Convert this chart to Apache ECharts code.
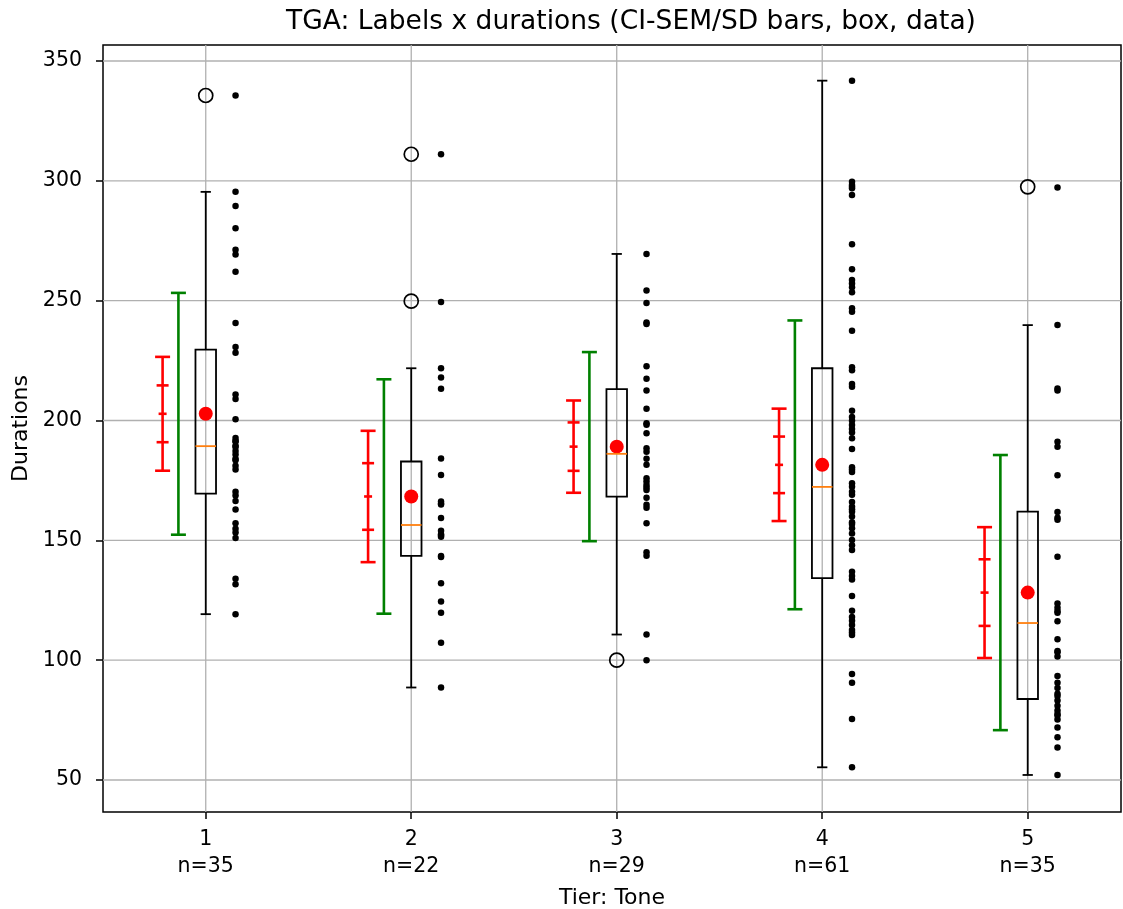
<!DOCTYPE html>
<html><head><meta charset="utf-8">
<script src="https://cdn.jsdelivr.net/npm/echarts@6/dist/echarts.min.js"></script>
<style>html,body{margin:0;padding:0;background:#fff}#c{width:1123px;height:909px}</style>
</head><body><div id="c"></div>
<script>
// ---------- data ----------
const categories = ['1', '2', '3', '4', '5'];
const counts = [35, 22, 29, 61, 35];
const yTicks = [50, 100, 150, 200, 250, 300, 350];

const means   = [202.8, 168.3, 189.1, 181.5, 128.2];
const ciHalf  = [23.75, 27.4, 19.25, 23.45, 27.3];
const semHalf = [11.85, 13.9, 10.1, 11.8, 13.9];
const sdHalf  = [50.45, 48.9, 39.45, 60.25, 57.4];

const whiskerLow  = [119.2, 88.6, 110.7, 55.3, 52.1];
const q1          = [169.5, 143.5, 168.2, 134.2, 83.8];
const medians     = [189.3, 156.4, 186.1, 172.3, 115.5];
const q3          = [229.6, 182.9, 213.1, 221.8, 162.0];
const whiskerHigh = [295.4, 221.8, 269.5, 341.8, 239.8];
const outliers = [[335.6], [311.1, 249.8], [100.0], [], [297.5]];

const values1 = [335.6, 295.4, 289.5, 280.2, 271.2, 269.3, 262.1, 240.7, 230.7, 228.3, 210.8, 209.0,
  200.5, 192.7, 191.2, 188.9, 187.3, 185.8, 183.4, 181.1, 179.6, 170.3, 168.7, 166.4, 162.9, 157.1,
  154.8, 153.3, 151.0, 134.0, 131.7, 119.2, 189.5, 184.0, 191.5];
const values2 = [311.1, 249.4, 221.8, 217.9, 213.3, 184.1, 177.3, 166.2, 165.4, 159.3, 154.0, 152.5,
  151.5, 143.0, 132.1, 124.5, 119.8, 107.3, 88.6, 165.0, 152.0, 143.5];
const values3 = [269.5, 254.2, 249.0, 240.9, 240.3, 222.6, 217.4, 212.5, 204.9, 198.9, 198.2, 194.7,
  188.4, 187.0, 181.5, 175.9, 174.5, 173.1, 171.0, 167.8, 164.8, 163.6, 157.1, 145.0, 143.6, 110.7,
  100.0, 184.0, 172.0];
const values4 = [341.8, 299.6, 298.3, 296.9, 294.1, 273.5, 263.1, 258.6, 257.2, 253.5, 246.8, 245.4,
  237.5, 222.2, 215.2, 214.1, 204.1, 199.9, 198.1, 196.5, 192.6, 188.1, 179.6, 173.8, 172.4, 170.3,
  164.0, 161.9, 159.9, 156.8, 155.0, 152.9, 150.1, 146.0, 136.9, 135.1, 133.7, 126.8, 120.6, 116.5,
  114.7, 112.6, 110.5, 94.2, 90.6, 75.5, 55.3, 297.5, 255.6, 221.0, 201.5, 195.0, 180.5, 178.5,
  169.0, 166.0, 163.0, 157.5, 148.0, 118.0, 111.5];
const values5 = [297.2, 239.8, 213.4, 212.5, 191.1, 189.1, 177.2, 161.8, 159.4, 158.6, 143.2, 123.6,
  121.9, 119.8, 116.2, 108.7, 103.8, 103.3, 93.4, 90.6, 88.4, 86.0, 83.2, 81.0, 79.0, 76.9, 75.2,
  71.9, 67.8, 63.6, 52.1, 120.5, 101.5, 85.0, 77.5];
const groupValues = [values1, values2, values3, values4, values5];

// ---------- layout / style constants ----------
const FONT = 'DejaVu Sans';
const X_RED = -0.21, X_GREEN = -0.133, X_DATA = 0.145;
const BOX_HALF = 0.05, CAP_HALF = 0.025;
const ERR_CAP = 7.5, SEM_TICK = 6, MEAN_TICK = 4;

const xs = categories.map((c, i) => i + 1);
const boxData = xs.map((x, i) => [x, whiskerLow[i], q1[i], medians[i], q3[i], whiskerHigh[i]]);
const redData = xs.map((x, i) => [x + X_RED, means[i], ciHalf[i], semHalf[i]]);
const greenData = xs.map((x, i) => [x + X_GREEN, means[i], sdHalf[i]]);
const meanData = xs.map((x, i) => [x, means[i]]);
const outlierData = [];
outliers.forEach((arr, i) => arr.forEach(v => outlierData.push([xs[i], v])));
const pointData = [];
groupValues.forEach((arr, i) => arr.forEach(v => pointData.push([xs[i] + X_DATA, v])));
const gridData = xs.map(v => [v, null]).concat(yTicks.map(v => [null, v]));

function hline(cx, cy, half, style) {
  return { type: 'line', shape: { x1: cx - half, y1: cy, x2: cx + half, y2: cy }, style: style };
}

function renderGrid(params, api) {
  const cs = params.coordSys;
  const xv = api.value(0), yv = api.value(1);
  const st = { stroke: '#b0b0b0', lineWidth: 1.3 };
  if (params.dataIndex < xs.length) {
    const p = api.coord([xv, yTicks[0]]);
    return { type: 'line', shape: { x1: p[0], y1: cs.y, x2: p[0], y2: cs.y + cs.height }, style: st };
  }
  const p = api.coord([xs[0], yv]);
  return { type: 'line', shape: { x1: cs.x, y1: p[1], x2: cs.x + cs.width, y2: p[1] }, style: st };
}

function renderBox(params, api) {
  const x = api.value(0);
  const lo = api.coord([x, api.value(1)]);
  const b1 = api.coord([x, api.value(2)]);
  const md = api.coord([x, api.value(3)]);
  const b3 = api.coord([x, api.value(4)]);
  const hi = api.coord([x, api.value(5)]);
  const bw = api.size([BOX_HALF, 0])[0];
  const cw = api.size([CAP_HALF, 0])[0];
  const k = { stroke: '#000', lineWidth: 1.8 };
  return { type: 'group', children: [
    { type: 'line', shape: { x1: lo[0], y1: lo[1], x2: b1[0], y2: b1[1] }, style: k },
    { type: 'line', shape: { x1: b3[0], y1: b3[1], x2: hi[0], y2: hi[1] }, style: k },
    hline(lo[0], lo[1], cw, k),
    hline(hi[0], hi[1], cw, k),
    { type: 'rect', shape: { x: b3[0] - bw, y: b3[1], width: 2 * bw, height: b1[1] - b3[1] },
      style: { stroke: '#000', lineWidth: 1.8, fill: null } },
    hline(md[0], md[1], bw, { stroke: '#ff7f0e', lineWidth: 1.8 })
  ] };
}

function renderRed(params, api) {
  const x = api.value(0), m = api.value(1), ci = api.value(2), se = api.value(3);
  const top = api.coord([x, m + ci]), bot = api.coord([x, m - ci]);
  const s1 = api.coord([x, m + se]), s2 = api.coord([x, m - se]), mc = api.coord([x, m]);
  const r = { stroke: '#ff0000', lineWidth: 2.6 };
  return { type: 'group', children: [
    { type: 'line', shape: { x1: top[0], y1: top[1], x2: bot[0], y2: bot[1] }, style: r },
    hline(top[0], top[1], ERR_CAP, r),
    hline(bot[0], bot[1], ERR_CAP, r),
    hline(s1[0], s1[1], SEM_TICK, r),
    hline(s2[0], s2[1], SEM_TICK, r),
    hline(mc[0], mc[1], MEAN_TICK, r)
  ] };
}

function renderGreen(params, api) {
  const x = api.value(0), m = api.value(1), sd = api.value(2);
  const top = api.coord([x, m + sd]), bot = api.coord([x, m - sd]);
  const g = { stroke: '#008000', lineWidth: 2.6 };
  return { type: 'group', children: [
    { type: 'line', shape: { x1: top[0], y1: top[1], x2: bot[0], y2: bot[1] }, style: g },
    hline(top[0], top[1], ERR_CAP, g),
    hline(bot[0], bot[1], ERR_CAP, g)
  ] };
}

const chart = echarts.init(document.getElementById('c'), null, { renderer: 'canvas' });
const tickFont = { fontFamily: FONT, fontSize: 20.5, color: '#000' };

chart.setOption({
  backgroundColor: '#fff',
  animation: false,
  title: {
    text: 'TGA: Labels x durations (CI-SEM/SD bars, box, data)',
    left: 626, top: 4, textAlign: 'center',
    textStyle: { fontFamily: FONT, fontSize: 26.5, fontWeight: 'normal', color: '#000' }
  },
  grid: { left: 103, right: 2, top: 45, bottom: 97, show: true, borderColor: '#000', borderWidth: 1.5,
          backgroundColor: 'transparent', containLabel: false, outerBoundsMode: 'none' },
  xAxis: {
    type: 'value', min: 0.5, max: 5.454,
    name: 'Tier: Tone', nameLocation: 'middle', nameGap: 75,
    nameTextStyle: { fontFamily: FONT, fontSize: 22, color: '#000' },
    axisLine: { show: false },
    splitLine: { show: false },
    axisTick: { show: true, length: 7, customValues: xs, lineStyle: { color: '#000', width: 1.5 } },
    axisLabel: Object.assign({ customValues: xs, margin: 14, lineHeight: 27,
      formatter: v => categories[Math.round(v) - 1] + '\nn=' + counts[Math.round(v) - 1] }, tickFont)
  },
  yAxis: {
    type: 'value', min: 36.65, max: 356.68,
    name: 'Durations', nameLocation: 'middle', nameGap: 71, nameRotate: 90,
    nameTextStyle: { fontFamily: FONT, fontSize: 22, color: '#000' },
    axisLine: { show: false },
    splitLine: { show: false },
    axisTick: { show: true, length: 7, customValues: yTicks, lineStyle: { color: '#000', width: 1.5 } },
    axisLabel: Object.assign({ customValues: yTicks, margin: 21 }, tickFont)
  },
  series: [
    { type: 'custom', name: 'grid', renderItem: renderGrid, data: gridData, z: 0, silent: true,
      encode: { x: 0, y: 1 }, clip: false },
    { type: 'scatter', name: 'data', data: pointData, symbol: 'circle', symbolSize: 6.5,
      itemStyle: { color: '#000', opacity: 1 }, z: 2 },
    { type: 'scatter', name: 'outliers', data: outlierData, symbol: 'circle', symbolSize: 14,
      itemStyle: { color: 'transparent', borderColor: '#000', borderWidth: 1.7, opacity: 1 }, z: 3 },
    { type: 'custom', name: 'green', renderItem: renderGreen, data: greenData, encode: { x: 0, y: 1 }, z: 3 },
    { type: 'custom', name: 'red', renderItem: renderRed, data: redData, encode: { x: 0, y: 1 }, z: 3 },
    { type: 'scatter', name: 'mean', data: meanData, symbol: 'circle', symbolSize: 14,
      itemStyle: { color: '#ff0000', opacity: 1 }, z: 4 },
    { type: 'custom', name: 'box', renderItem: renderBox, data: boxData, encode: { x: 0, y: [1, 2, 3, 4, 5] }, z: 5 }
  ]
});
</script></body></html>
